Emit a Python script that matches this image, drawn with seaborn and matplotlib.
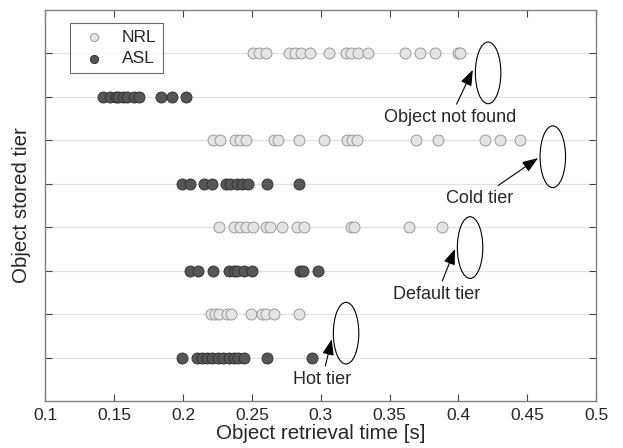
"""Retrieval time per stored tier, NRL vs ASL (dot strip chart)."""

import matplotlib

matplotlib.use("Agg")

import matplotlib.pyplot as plt
import pandas as pd
import seaborn as sns
from matplotlib.patches import Ellipse

# retrieval times [s] per tier
nrl_not_found = [0.251, 0.255, 0.260, 0.277, 0.281, 0.286, 0.292, 0.306, 0.318,
                 0.322, 0.327, 0.334, 0.361, 0.372, 0.383, 0.400, 0.401]
asl_not_found = [0.142, 0.147, 0.151, 0.153, 0.156, 0.159, 0.164, 0.168, 0.184,
                 0.192, 0.202]
nrl_cold = [0.222, 0.227, 0.238, 0.241, 0.246, 0.266, 0.269, 0.284, 0.302, 0.319,
            0.323, 0.326, 0.369, 0.385, 0.419, 0.430, 0.445]
asl_cold = [0.199, 0.205, 0.215, 0.221, 0.231, 0.234, 0.239, 0.243, 0.247, 0.261,
            0.284]
nrl_default = [0.226, 0.237, 0.241, 0.246, 0.251, 0.260, 0.263, 0.272, 0.283,
               0.288, 0.322, 0.324, 0.364, 0.388]
asl_default = [0.205, 0.211, 0.222, 0.233, 0.237, 0.239, 0.244, 0.250, 0.285,
               0.287, 0.298]
nrl_hot = [0.220, 0.223, 0.226, 0.232, 0.235, 0.249, 0.257, 0.260, 0.266, 0.284]
asl_hot = [0.199, 0.210, 0.214, 0.217, 0.221, 0.225, 0.229, 0.233, 0.237, 0.240,
           0.244, 0.261, 0.294]

# row of each series on the y axis (bottom = 1)
rows = {
    ("ASL", "hot"): 1, ("NRL", "hot"): 2,
    ("ASL", "default"): 3, ("NRL", "default"): 4,
    ("ASL", "cold"): 5, ("NRL", "cold"): 6,
    ("ASL", "not_found"): 7, ("NRL", "not_found"): 8,
}
series = {
    ("NRL", "not_found"): nrl_not_found, ("ASL", "not_found"): asl_not_found,
    ("NRL", "cold"): nrl_cold, ("ASL", "cold"): asl_cold,
    ("NRL", "default"): nrl_default, ("ASL", "default"): asl_default,
    ("NRL", "hot"): nrl_hot, ("ASL", "hot"): asl_hot,
}

# annotation: label, ellipse centre (x, y), arrow head, text position
annotations = [
    ("Object not found", (0.4216, 7.55), (0.4105, 7.62), (0.3942, 6.53)),
    ("Cold tier", (0.4686, 5.62), (0.4579, 5.59), (0.4157, 4.67)),
    ("Default tier", (0.4085, 3.53), (0.3976, 3.50), (0.3845, 2.46)),
    ("Hot tier", (0.3184, 1.56), (0.3080, 1.42), (0.3010, 0.50)),
]

records = []
for (system, tier), times in series.items():
    for t in times:
        records.append({"time": t, "row": rows[(system, tier)], "system": system})
df = pd.DataFrame(records)

sns.set_style("ticks")
plt.rcParams["font.family"] = ["Liberation Sans", "DejaVu Sans"]

fig = plt.figure(figsize=(6.23, 4.48), dpi=100)
ax = fig.add_axes([0.073, 0.105, 0.8837, 0.873])

for y in range(1, 9):
    ax.axhline(y, color="#e2e2e2", lw=0.8, zorder=0)

styles = {
    "NRL": dict(color="#e4e4e4", edgecolor="#9a9a9a"),
    "ASL": dict(color="#565656", edgecolor="#333333"),
}
for system in ["NRL", "ASL"]:
    sub = df[df["system"] == system]
    sns.scatterplot(data=sub, x="time", y="row", ax=ax, s=62, linewidth=0.7,
                    label=system, zorder=3, **styles[system])

for label, centre, head, text_pos in annotations:
    ax.add_patch(Ellipse(centre, width=0.0185, height=1.42, fill=False,
                         edgecolor="black", lw=0.8, zorder=4))
    ax.annotate(label, xy=head, xytext=text_pos, ha="center", va="center",
                fontsize=13,
                arrowprops=dict(arrowstyle="-|>,head_length=0.6,head_width=0.22",
                                color="black", lw=0.8, mutation_scale=16,
                                shrinkA=1, shrinkB=0))

ax.set_xlim(0.1, 0.5)
ax.set_ylim(0, 9)
ax.set_xticks([0.1, 0.15, 0.2, 0.25, 0.3, 0.35, 0.4, 0.45, 0.5])
ax.set_xticklabels(["0.1", "0.15", "0.2", "0.25", "0.3", "0.35", "0.4", "0.45", "0.5"])
ax.set_yticks(range(1, 9))
ax.set_yticklabels([])
ax.tick_params(direction="in", top=True, right=True, length=5, width=0.8,
               color="#444444", labelsize=12.5, pad=5)
for spine in ax.spines.values():
    spine.set_color("#808080")
    spine.set_linewidth(1.0)

ax.set_xlabel("Object retrieval time [s]", fontsize=14.8, labelpad=1)
ax.set_ylabel("Object stored tier", fontsize=14.8)
ax.yaxis.set_label_coords(-0.026, 0.5)

leg = ax.legend(loc="upper left", bbox_to_anchor=(0.044, 0.967), borderaxespad=0,
                fontsize=12.5, frameon=True, fancybox=False, markerscale=0.75,
                handletextpad=0.6, borderpad=0.4, labelspacing=0.35)
leg.get_frame().set_edgecolor("#444444")
leg.get_frame().set_linewidth(0.8)

fig.savefig("out.png", dpi=100)
plt.close(fig)
